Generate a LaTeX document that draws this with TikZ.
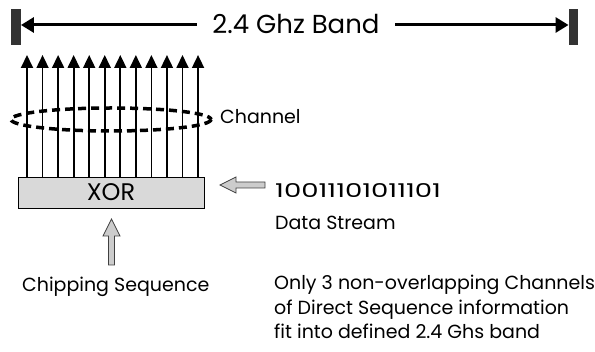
\documentclass[tikz,border=0pt]{standalone}
\usepackage{fontspec}
\setmainfont{Poppins}
\usetikzlibrary{arrows.meta}
\tikzset{
  bar/.style={draw=none, fill=black!80, minimum width=9.5pt, minimum height=36pt, inner sep=0pt},
  bandarrow/.style={line width=3pt, -{Triangle[length=13pt,width=15pt]}},
  vertarrow/.style={line width=1.8pt, -{Triangle[length=13pt,width=12pt]}},
  xorbox/.style={draw=black, line width=0.9pt, fill=black!15, minimum width=186pt, minimum height=31pt, inner sep=0pt, font=\fontsize{24}{28}\selectfont},
  chan/.style={draw=black, line width=3.5pt, dash pattern=on 8pt off 5pt},
  hollow/.style={draw=black!75, line width=0.8pt, fill=black!20},
  lbl/.style={inner sep=0pt, font=\fontsize{19}{24}\selectfont},
}
\begin{document}
\begin{tikzpicture}[x=1pt,y=-1pt]
\useasboundingbox (0,0) rectangle (595,352);
% band
\node[bar] (lbar) at (16,27) {};
\node[bar] (rbar) at (573.5,27) {};
\node[fill=white, inner xsep=0pt, minimum width=198pt, inner ysep=4pt, font=\fontsize{26}{30}\selectfont] (band) at (296,24) {2.4 Ghz Band};
\draw[bandarrow] (band.west |- 0,25) -- (lbar.east |- 0,25);
\draw[bandarrow] (band.east |- 0,25) -- (rbar.west |- 0,25);
% XOR box
\node[xorbox] (xor) at (111,192.5) {XOR};
% vertical arrows
\foreach \i in {0,...,11} {
  \pgfmathsetmacro\xx{27+15.55*\i}
  \coordinate (t\i) at (\xx,55);
  \draw[vertarrow] (xor.north -| t\i) -- (t\i);
}
% channel ellipse
\draw[chan] (111,119.5) ellipse [x radius=100, y radius=11.5];
\node[lbl, anchor=west] (channel) at (220,117) {Channel};
% data stream
\draw[hollow] (220,185) -- (236,177) -- (236,182) -- (265,182) -- (265,188) -- (236,188) -- (236,193) -- cycle;
\node[lbl, anchor=base west] (bits) at (275,198) {\scalebox{1.45}[1]{10011101011101}};
\node[lbl, anchor=base west] (ds) at (275,230) {Data Stream};
% chipping sequence
\draw[hollow] (111.5,219) -- (120,236) -- (114.5,236) -- (114.5,265) -- (108.5,265) -- (108.5,236) -- (103,236) -- cycle;
\node[lbl, anchor=base west] (chip) at (22,292) {Chipping Sequence};
% note
\node[lbl, anchor=base west] (n1) at (274,290) {Only 3 non-overlapping Channels};
\node[lbl, anchor=base west] (n2) at (274,314.5) {of Direct Sequence information};
\node[lbl, anchor=base west] (n3) at (274,339) {fit into defined 2.4 Ghs band};
\end{tikzpicture}
\end{document}
